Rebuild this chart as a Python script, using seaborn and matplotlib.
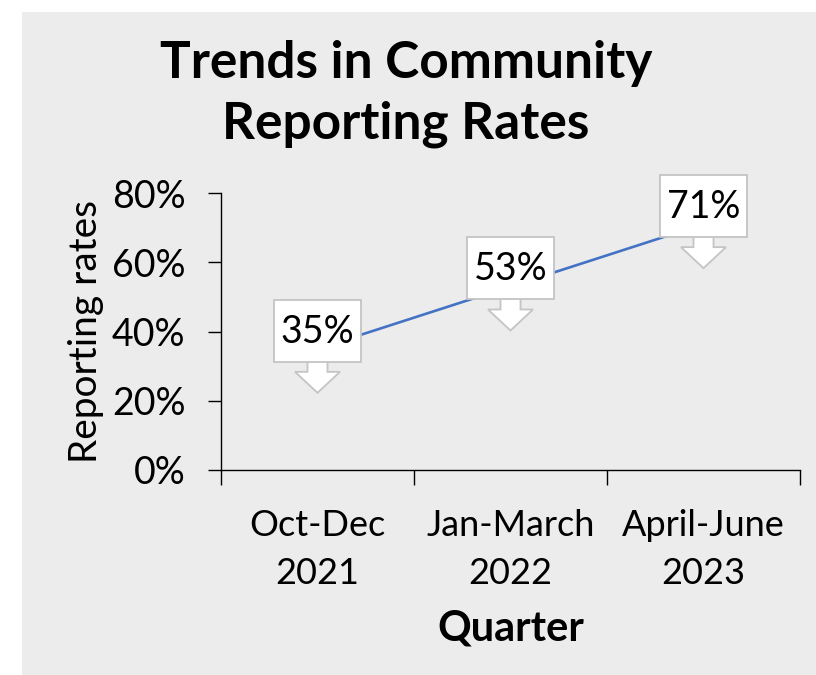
import matplotlib
matplotlib.use("Agg")
import matplotlib.pyplot as plt
import matplotlib.transforms as mtransforms
from matplotlib.patches import Rectangle, Polygon
from matplotlib.ticker import FixedLocator, PercentFormatter
import seaborn as sns
import pandas as pd

# Data
quarters = ["Oct-Dec\n2021", "Jan-March\n2022", "April-June\n2023"]
rates = [0.35, 0.53, 0.71]
labels = ["35%", "53%", "71%"]

sns.set_style("white")
plt.rcParams["font.family"] = ["Lato", "DejaVu Sans"]
plt.rcParams["text.color"] = "black"
plt.rcParams["axes.labelcolor"] = "black"
plt.rcParams["xtick.color"] = "black"
plt.rcParams["ytick.color"] = "black"

bg = "#ececec"
edge = "#c4c4c4"
df = pd.DataFrame({"quarter": quarters, "rate": rates})

fig = plt.figure(figsize=(8.16, 6.75), dpi=100)
fig.patch.set_facecolor("white")
fig.patches.append(Rectangle((22 / 816, 0), 1 - 22 / 816, 1 - 12 / 675,
                             transform=fig.transFigure, facecolor=bg,
                             edgecolor="none", zorder=-10))

ax = fig.add_axes([221 / 816, 1 - 470 / 675, (800 - 221) / 816, (470 - 193) / 675])
ax.set_facecolor("none")

sns.lineplot(data=df, x="quarter", y="rate", ax=ax, color="#4472C4",
             linewidth=1.9, sort=False)

ax.set_xlim(-0.5, 2.5)
ax.set_ylim(0, 0.8)
ax.yaxis.set_major_locator(FixedLocator([0, 0.2, 0.4, 0.6, 0.8]))
ax.yaxis.set_major_formatter(PercentFormatter(1.0, decimals=0))

# category boundaries carry the tick marks, labels sit in the middle
ax.set_xticks(range(len(quarters)))
ax.set_xticklabels(quarters, fontsize=26, linespacing=1.55)
ax.set_xticks([-0.5, 0.5, 1.5, 2.5], minor=True)
ax.tick_params(axis="x", which="major", length=0, pad=28)
ax.tick_params(axis="x", which="minor", length=11, width=1, color="black",
               direction="out", bottom=True)
ax.tick_params(axis="y", labelsize=27, length=9.5, width=1, color="black",
               direction="out", left=True, pad=16)

for side in ["top", "right"]:
    ax.spines[side].set_visible(False)
for side in ["left", "bottom"]:
    ax.spines[side].set_color("black")
    ax.spines[side].set_linewidth(1)
    ax.spines[side].set_zorder(1)

ax.set_xlabel("Quarter", fontsize=30, fontweight="bold", labelpad=14)
ax.set_ylabel("Reporting rates", fontsize=28, labelpad=6)

# callout labels: white box with a hollow arrow pointing down (shapes in inches)
box_w, box_h, box_dy = 0.87, 0.62, 0.18
arrow_shape = [(-0.10, -0.12), (0.10, -0.12), (0.10, -0.23), (0.225, -0.23),
               (0.0, -0.44), (-0.225, -0.23), (-0.10, -0.23)]
for i, (v, lab) in enumerate(zip(rates, labels)):
    at_point = fig.dpi_scale_trans + mtransforms.ScaledTranslation(i, v, ax.transData)
    ax.add_patch(Polygon(arrow_shape, closed=True, transform=at_point, fc="white",
                         ec=edge, lw=1.3, zorder=4, clip_on=False))
    ax.add_patch(Rectangle((-box_w / 2, box_dy - box_h / 2), box_w, box_h,
                           transform=at_point, fc="white", ec=edge, lw=1.3,
                           zorder=5, clip_on=False))
    ax.text(0, box_dy - 0.01, lab, transform=at_point, ha="center", va="center",
            fontsize=27, zorder=6)

fig.text(0.4975, 0.861, "Trends in Community\nReporting Rates", ha="center",
         va="center", fontsize=37, fontweight="bold", linespacing=1.36)

fig.savefig("out.png", dpi=100, facecolor=fig.get_facecolor())
